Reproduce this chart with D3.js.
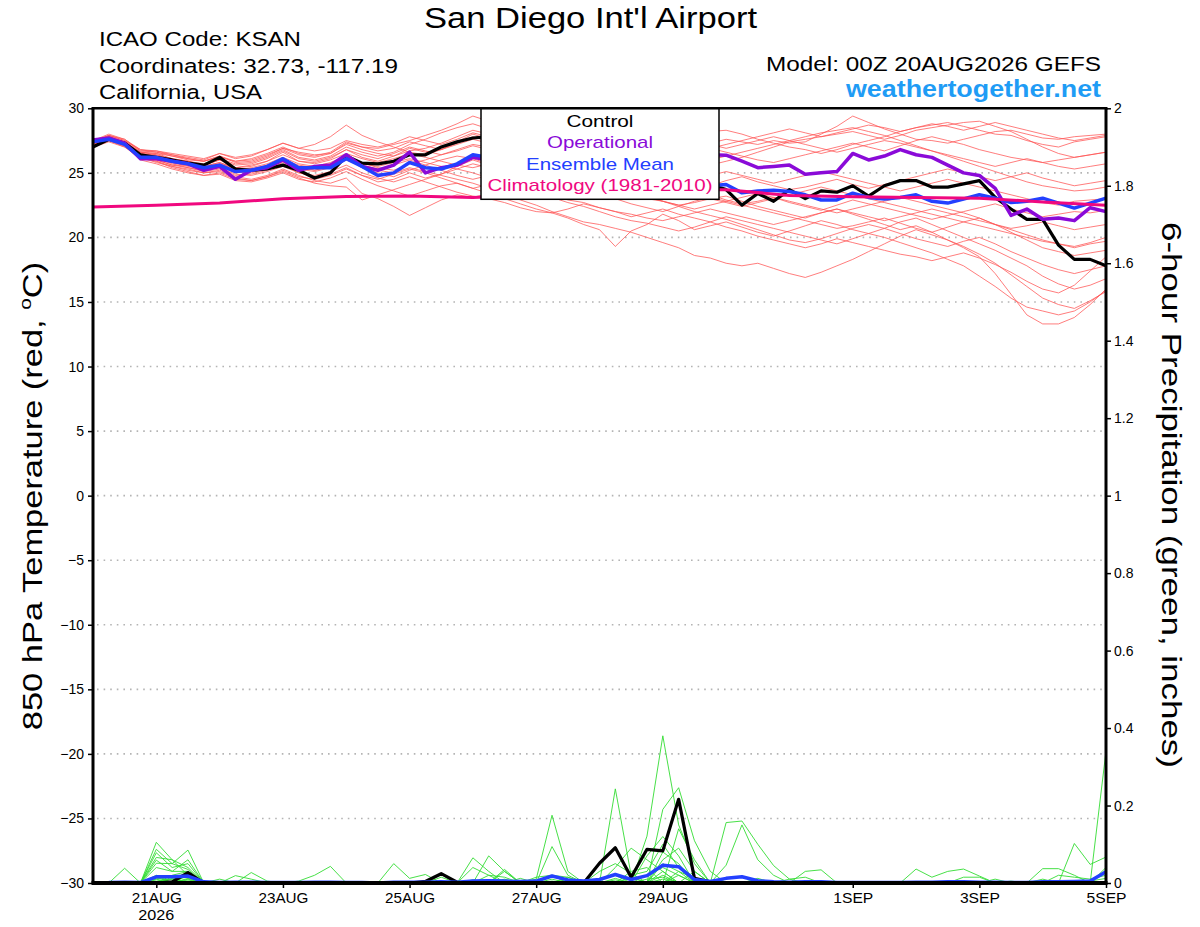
<!DOCTYPE html>
<html>
<head>
<meta charset="utf-8">
<script src="https://cdn.jsdelivr.net/npm/d3@7"></script>
<style>
  body { margin: 0; background: #fff; }
  svg { display: block; }
</style>
</head>
<body>
<div class="container"></div>
<script>
/* globals d3 */
// GEFS plume for KSAN, 850 hPa temperature (left axis) and 6-hour precipitation (right axis)
// every series is 6-hourly from the 00Z 20AUG2026 run

const runStart = new Date(Date.UTC(2026, 7, 20, 0));
const runEnd = new Date(Date.UTC(2026, 8, 5, 0));

// bottom axis
const tickDates = ['2026-08-21', '2026-08-23', '2026-08-25', '2026-08-27', '2026-08-29', '2026-09-01', '2026-09-03', '2026-09-05'];
const tickLabels = ['21AUG', '23AUG', '25AUG', '27AUG', '29AUG', '1SEP', '3SEP', '5SEP'];
const tempTicks = [-30, -25, -20, -15, -10, -5, 0, 5, 10, 15, 20, 25, 30];
const precipTicks = [0, 0.2, 0.4, 0.6, 0.8, 1, 1.2, 1.4, 1.6, 1.8, 2];

// 850 hPa temperature, steps 0..64
const tempControl = [27.0, 27.6, 27.3, 26.4, 26.2, 26.0, 25.75, 25.6, 26.2, 25.3, 25.2, 25.3, 25.6, 25.2, 24.6, 25.0, 26.3, 25.75, 25.7, 25.9, 26.4, 26.4, 27.0, 27.4, 27.7,
  27.8, 27.5, 27.0, 26.6, 26.2, 25.8, 25.5, 25.2, 25.0, 24.8, 24.6, 24.4, 24.3, 24.2, 24.1,
  23.7, 22.5, 23.4, 22.8, 23.7, 23.0, 23.6, 23.5, 24.0, 23.2, 24.0, 24.4, 24.4, 23.9, 23.9, 24.15, 24.4, 23.1, 22.2, 21.4, 21.4, 19.4, 18.3, 18.3, 17.8];
const tempOperational = [27.55, 27.7, 27.3, 26.1, 26.1, 25.9, 25.7, 25.2, 25.5, 24.5, 25.2, 25.4, 26.0, 25.2, 25.5, 25.6, 26.4, 25.5, 25.2, 25.6, 26.6, 25.0, 25.4, 25.6, 26.2,
  26.0, 26.2, 26.4, 26.6, 26.8, 26.9, 27.0, 26.9, 26.8, 26.7, 26.6, 26.6, 26.5, 26.4, 26.4,
  26.37, 25.9, 25.4, 25.5, 25.6, 24.9, 25.0, 25.1, 26.5, 26.0, 26.3, 26.8, 26.4, 26.2, 25.6, 25.0, 24.8, 23.8, 21.7, 22.2, 21.4, 21.5, 21.3, 22.3, 22.0];
const tempMean = [27.4, 27.6, 27.2, 26.2, 26.2, 25.9, 25.7, 25.4, 25.6, 25.1, 25.2, 25.5, 26.1, 25.4, 25.4, 25.4, 26.1, 25.5, 24.8, 25.0, 25.8, 25.4, 25.3, 25.7, 26.4,
  26.2, 26.0, 25.8, 25.5, 25.3, 25.0, 24.8, 24.6, 24.5, 24.4, 24.3, 24.2, 24.1, 24.1, 24.0,
  24.1, 23.45, 23.6, 23.65, 23.56, 23.3, 22.9, 22.9, 23.43, 23.1, 22.97, 23.1, 23.3, 22.8, 22.66, 22.97, 23.3, 23.04, 22.7, 22.8, 23.04, 22.66, 22.27, 22.66, 23.04];
// 1981-2010 climatology, one value per day at 00Z
const climatology = [22.35, 22.5, 22.66, 23.0, 23.17, 23.2, 23.1, 23.3, 23.5, 23.7, 23.7, 23.25, 23.15, 23.1, 23.04, 22.75, 22.5];

// the 20 perturbed members
const tempMembers = [
  [27.2, 27.7, 27.3, 26.5, 26.4, 26.0, 25.9, 25.6, 26.0, 25.4, 25.6, 25.9, 26.6, 25.9, 25.8, 26.1, 26.8, 26.2, 25.9, 26.3, 26.9, 26.6, 26.8, 27.4, 28.0, 27.6, 27.1, 26.8, 26.4, 26.0, 25.9, 26.2, 26.5, 26.7, 26.9, 27.1, 27.4, 27.2, 27.0, 27.3, 27.6, 27.4, 27.2, 27.5, 27.3, 27.4, 28.0, 28.6, 29.4, 28.9, 28.4, 28.0, 27.6, 27.5, 27.3, 27.6, 27.9, 28.2, 28.3, 28.0, 27.7, 27.6, 27.8, 27.9, 28.0],
  [27.4, 27.8, 27.4, 26.6, 26.5, 26.3, 26.0, 25.9, 26.3, 25.9, 26.0, 26.4, 26.9, 26.6, 26.4, 26.5, 27.3, 27.0, 26.9, 27.2, 27.5, 27.9, 28.3, 28.8, 29.4, 29.0, 28.5, 28.0, 27.6, 27.4, 27.2, 27.5, 27.8, 28.0, 27.8, 27.6, 27.5, 27.6, 27.9, 28.2, 28.3, 28.0, 27.6, 27.3, 27.0, 26.8, 26.5, 26.8, 27.2, 27.5, 27.8, 28.2, 28.5, 28.7, 28.9, 28.6, 28.3, 28.0, 27.9, 27.5, 27.2, 27.0, 27.4, 27.6, 27.8],
  [27.3, 27.9, 27.5, 26.7, 26.7, 26.4, 26.2, 26.0, 26.5, 26.1, 26.3, 26.8, 27.3, 26.9, 27.2, 27.8, 28.7, 27.9, 27.4, 27.0, 26.6, 26.4, 26.8, 27.2, 27.6, 27.3, 27.0, 26.6, 26.3, 26.0, 25.6, 25.3, 25.5, 25.7, 25.4, 25.0, 24.8, 25.0, 25.3, 25.6, 25.9, 26.2, 26.6, 27.0, 27.4, 27.6, 27.8, 28.0, 28.2, 27.9, 27.6, 27.9, 28.3, 28.5, 28.7, 28.9, 29.0, 28.6, 28.2, 27.6, 27.0, 26.5, 26.2, 26.4, 26.6],
  [27.1, 27.6, 27.2, 26.3, 26.0, 25.6, 25.4, 25.1, 25.3, 24.8, 24.9, 25.2, 25.6, 25.0, 24.7, 24.9, 25.4, 24.8, 24.3, 24.5, 25.0, 24.6, 24.9, 25.5, 26.0, 25.6, 25.0, 24.5, 24.2, 23.9, 23.5, 23.2, 23.5, 23.8, 23.4, 23.0, 22.8, 22.5, 22.7, 23.0, 23.2, 22.8, 22.4, 22.1, 21.8, 21.5, 21.9, 22.2, 21.8, 21.4, 21.0, 20.6, 20.9, 20.4, 19.8, 19.2, 18.5, 17.2, 15.6, 14.0, 13.3, 13.3, 13.8, 14.8, 16.0],
  [27.0, 27.5, 27.0, 26.1, 25.9, 25.4, 25.1, 24.8, 24.9, 24.4, 24.3, 24.6, 25.0, 24.5, 24.3, 24.6, 25.1, 24.5, 24.0, 23.6, 23.2, 23.6, 24.0, 24.2, 23.8, 23.4, 23.0, 22.6, 22.2, 21.9, 21.5, 21.0, 20.6, 19.3, 20.5, 21.0, 21.8, 21.3, 20.6, 20.9, 21.2, 20.8, 20.4, 20.1, 20.5, 20.9, 21.3, 21.0, 20.6, 20.3, 20.7, 21.2, 21.5, 21.0, 20.5, 20.0, 19.5, 19.0, 18.4, 17.8, 17.0, 16.4, 16.0, 16.3, 16.8],
  [27.2, 27.6, 27.1, 26.2, 25.8, 25.5, 25.3, 25.0, 25.2, 24.7, 24.5, 24.8, 25.3, 24.8, 24.4, 24.2, 24.6, 23.4, 23.0, 22.4, 21.7, 22.3, 22.9, 23.3, 23.1, 23.4, 23.8, 24.2, 24.6, 24.4, 24.0, 23.7, 23.4, 23.0, 22.6, 22.3, 22.0, 22.4, 22.8, 23.1, 22.8, 22.5, 22.2, 21.9, 21.6, 21.3, 21.0, 20.7, 20.9, 21.2, 21.5, 21.1, 20.7, 20.4, 20.8, 21.2, 21.5, 21.0, 20.4, 19.8, 19.2, 18.9, 18.6, 18.8, 19.0],
  [27.3, 27.7, 27.2, 26.4, 26.1, 25.8, 25.5, 25.3, 25.6, 25.1, 25.0, 25.3, 25.8, 25.3, 25.1, 25.4, 26.0, 25.5, 25.2, 25.0, 25.4, 25.1, 24.8, 24.5, 24.2, 23.8, 23.3, 22.9, 22.5, 22.0, 21.6, 21.2, 21.0, 20.7, 20.4, 20.0, 19.6, 19.2, 18.6, 18.4, 18.0, 17.8, 18.0, 17.6, 17.2, 16.9, 17.3, 17.8, 18.3, 18.9, 19.5, 20.1, 20.6, 20.2, 19.8, 19.3, 18.7, 18.0, 17.1, 16.2, 15.3, 14.8, 14.5, 15.1, 15.8],
  [27.0, 27.4, 27.0, 26.3, 26.0, 25.6, 25.6, 25.4, 25.7, 25.3, 25.3, 25.6, 26.0, 25.6, 25.4, 25.7, 26.2, 25.7, 25.5, 25.8, 26.1, 25.8, 25.5, 25.3, 25.0, 24.6, 24.2, 23.8, 23.5, 23.1, 22.7, 22.4, 22.0, 21.6, 21.3, 21.1, 20.8, 20.5, 20.8, 21.2, 21.6, 21.3, 21.0, 20.7, 20.4, 20.1, 19.8, 19.5, 19.9, 20.3, 20.0, 19.6, 19.2, 18.8, 18.3, 17.8, 17.0, 16.2, 15.3, 14.6, 14.3, 14.0, 14.3, 15.0, 15.9],
  [27.4, 27.8, 27.3, 26.5, 26.3, 26.0, 25.8, 25.5, 25.8, 25.3, 25.1, 25.4, 25.9, 25.5, 25.2, 25.5, 26.1, 25.4, 25.0, 24.7, 25.2, 25.6, 26.0, 26.3, 26.1, 25.7, 25.3, 25.0, 24.6, 24.2, 23.9, 23.5, 23.2, 23.4, 23.6, 23.2, 22.8, 22.4, 22.0, 21.7, 21.4, 21.0, 20.6, 20.2, 19.8, 19.6, 19.9, 20.3, 20.7, 21.0, 20.7, 20.3, 19.9, 19.6, 19.3, 19.7, 20.0, 19.5, 18.9, 18.4, 17.9, 17.5, 17.2, 17.5, 17.8],
  [27.2, 27.7, 27.4, 26.6, 26.5, 26.1, 25.9, 25.6, 26.0, 25.6, 25.7, 26.1, 26.7, 26.1, 25.9, 26.2, 26.8, 26.4, 26.1, 26.5, 27.0, 26.7, 26.4, 26.7, 27.1, 26.8, 26.3, 25.9, 25.5, 25.2, 24.9, 24.6, 24.3, 24.0, 23.7, 23.4, 23.1, 23.4, 23.7, 23.3, 22.9, 22.6, 22.8, 23.1, 22.7, 22.4, 22.1, 22.5, 22.9, 22.6, 22.3, 22.0, 21.7, 21.4, 21.7, 22.0, 22.3, 22.6, 22.2, 21.9, 21.6, 21.8, 22.0, 21.9, 22.1],
  [27.5, 27.9, 27.5, 26.8, 26.6, 26.3, 26.1, 25.9, 26.3, 25.8, 25.9, 26.3, 26.9, 26.4, 26.2, 26.5, 27.2, 26.8, 26.5, 26.3, 26.7, 26.9, 27.3, 27.8, 28.3, 28.0, 27.6, 27.2, 26.9, 26.6, 26.4, 26.7, 27.0, 26.8, 26.5, 26.2, 26.0, 26.3, 26.6, 26.9, 26.6, 26.3, 26.0, 25.8, 26.1, 26.4, 26.7, 27.0, 27.3, 27.0, 26.7, 27.1, 27.5, 27.8, 27.5, 27.2, 26.8, 26.5, 26.2, 26.0, 25.8, 26.0, 26.2, 26.4, 26.6],
  [27.3, 27.8, 27.3, 26.3, 26.2, 25.9, 25.7, 25.4, 25.7, 25.2, 25.4, 25.7, 26.2, 25.7, 25.5, 25.8, 26.3, 25.8, 25.4, 25.2, 25.7, 26.0, 26.4, 26.8, 27.2, 27.0, 26.6, 26.2, 25.9, 25.6, 25.3, 25.0, 24.8, 24.5, 24.2, 24.5, 24.8, 24.6, 24.3, 24.0, 24.4, 24.7, 24.3, 24.0, 23.7, 23.9, 24.2, 24.5, 24.1, 23.8, 24.1, 24.4, 24.7, 25.0, 25.3, 25.0, 24.7, 24.4, 24.7, 25.0, 24.6, 24.3, 24.0, 24.2, 24.4],
  [27.1, 27.5, 27.1, 26.2, 25.9, 25.5, 25.2, 25.0, 25.1, 24.6, 24.4, 24.7, 25.1, 24.6, 24.2, 24.0, 23.9, 22.9, 23.3, 23.7, 24.1, 24.5, 24.9, 25.3, 25.7, 25.4, 25.0, 24.7, 24.4, 24.1, 23.8, 23.6, 23.9, 24.2, 24.5, 24.2, 23.9, 23.6, 23.3, 23.0, 22.7, 22.4, 22.7, 23.0, 23.3, 23.6, 23.9, 23.6, 23.3, 23.0, 22.7, 22.4, 22.1, 21.8, 21.5, 21.2, 20.9, 20.6, 20.3, 20.0, 19.7, 19.5, 19.2, 19.5, 19.7],
  [27.4, 27.9, 27.6, 26.7, 26.6, 26.4, 26.1, 25.9, 26.2, 25.9, 26.1, 26.5, 27.0, 26.5, 26.3, 26.6, 27.4, 27.0, 26.7, 26.9, 27.4, 27.1, 26.8, 27.3, 27.8, 27.4, 27.0, 26.7, 26.4, 26.7, 27.0, 27.3, 27.5, 27.2, 26.9, 27.2, 27.5, 27.8, 27.5, 27.2, 26.9, 27.2, 27.5, 27.8, 27.5, 27.2, 26.9, 26.6, 26.9, 27.2, 27.5, 27.3, 27.0, 26.7, 26.4, 26.1, 25.8, 25.5, 25.8, 26.1, 25.8, 25.5, 25.3, 25.5, 25.7],
  [27.0, 27.5, 27.1, 26.0, 25.7, 25.3, 25.0, 24.8, 25.0, 24.5, 24.4, 24.7, 25.2, 24.7, 24.5, 24.8, 25.3, 24.8, 24.5, 24.9, 25.3, 25.0, 24.6, 24.2, 23.8, 24.1, 24.4, 24.1, 23.7, 23.3, 22.9, 22.7, 22.3, 22.0, 21.6, 21.9, 22.2, 21.8, 21.5, 21.2, 20.8, 20.5, 20.1, 19.8, 19.5, 19.2, 19.5, 19.9, 19.6, 19.3, 19.0, 18.7, 18.5, 18.2, 18.5, 18.8, 18.4, 17.9, 17.3, 16.6, 16.0, 15.7, 16.3, 17.4, 18.5],
  [27.3, 27.8, 27.4, 26.6, 26.4, 26.1, 25.9, 25.7, 26.1, 25.7, 25.8, 26.2, 26.8, 26.2, 26.0, 26.3, 27.0, 26.6, 26.3, 26.6, 27.2, 27.6, 28.1, 28.5, 28.8, 28.4, 28.0, 27.7, 27.3, 27.0, 26.8, 27.1, 27.4, 27.7, 27.9, 28.1, 27.8, 27.5, 27.2, 26.9, 27.2, 27.5, 27.8, 28.1, 28.4, 28.1, 27.8, 28.1, 28.4, 28.7, 28.5, 28.2, 28.5, 28.8, 28.6, 28.3, 28.6, 28.9, 28.6, 28.3, 28.0, 27.7, 27.5, 27.7, 27.9],
  [27.2, 27.6, 27.2, 26.3, 26.1, 25.7, 25.4, 25.2, 25.4, 24.9, 24.8, 25.1, 25.5, 25.0, 24.8, 25.1, 25.6, 25.0, 24.6, 24.3, 24.7, 24.3, 23.9, 23.5, 23.2, 23.0, 22.7, 22.3, 22.0, 21.9, 22.2, 22.6, 22.3, 22.0, 21.8, 21.5, 21.3, 21.6, 21.9, 22.2, 21.9, 21.6, 21.3, 21.0, 21.3, 21.6, 21.9, 22.2, 21.9, 21.6, 21.3, 21.6, 21.9, 22.2, 21.9, 21.6, 21.3, 21.0, 20.7, 20.9, 21.2, 20.9, 20.6, 20.8, 21.0],
  [27.5, 28.0, 27.6, 26.8, 26.7, 26.5, 26.3, 26.1, 26.5, 26.2, 26.4, 26.8, 27.3, 26.9, 26.7, 26.9, 27.5, 27.2, 27.0, 27.3, 27.8, 27.5, 27.2, 27.6, 28.1, 27.8, 27.4, 27.1, 26.8, 26.5, 26.2, 25.9, 25.6, 25.9, 26.2, 26.5, 26.8, 26.5, 26.2, 26.0, 26.3, 26.6, 26.9, 27.2, 27.5, 27.8, 28.1, 28.3, 28.5, 28.2, 27.9, 27.5, 27.1, 26.7, 26.3, 25.9, 25.5, 25.1, 24.7, 24.3, 24.0, 23.8, 23.6, 23.7, 23.9],
  [27.1, 27.6, 27.2, 26.4, 26.2, 25.8, 25.6, 25.3, 25.5, 25.0, 25.1, 25.4, 25.9, 25.4, 25.2, 25.5, 26.0, 25.6, 25.3, 25.6, 26.0, 25.6, 25.2, 24.8, 24.5, 24.8, 25.1, 24.8, 24.5, 24.2, 23.9, 24.2, 24.5, 24.8, 24.5, 24.2, 23.9, 24.2, 24.5, 24.8, 25.1, 24.8, 24.5, 24.2, 24.5, 24.8, 25.1, 24.8, 24.5, 24.2, 23.9, 23.6, 23.9, 24.2, 24.5, 24.2, 23.9, 23.6, 23.3, 23.0, 22.7, 22.5, 22.8, 22.9, 23.0],
  [27.3, 27.7, 27.3, 26.5, 26.3, 26.0, 25.7, 25.5, 25.8, 25.4, 25.5, 25.9, 26.4, 25.9, 25.7, 26.0, 26.5, 26.1, 25.8, 26.1, 26.5, 26.2, 25.9, 25.6, 25.4, 25.7, 26.0, 25.7, 25.3, 25.0, 24.6, 24.3, 24.0, 23.7, 23.4, 23.1, 22.8, 22.5, 22.2, 22.5, 22.8, 23.1, 23.4, 23.1, 22.8, 22.5, 22.2, 21.9, 22.2, 22.5, 22.8, 23.1, 22.8, 22.5, 22.2, 21.9, 21.5, 21.0, 20.6, 20.2, 19.8, 19.5, 19.3, 19.6, 20.0]
];

// 6-hour precipitation (inches), steps 1..64
const precipControl = [0, 0, 0, 0, 0.003, 0.027, 0, 0, 0, 0, 0, 0, 0, 0, 0, 0, 0, 0, 0, 0, 0.004, 0.024, 0.002, 0, 0, 0, 0, 0, 0, 0, 0, 0.051,
  0.091, 0.015, 0.087, 0.083, 0.216, 0.012, 0.003, 0, 0, 0, 0, 0, 0, 0, 0, 0, 0, 0, 0, 0, 0, 0, 0, 0, 0, 0, 0, 0, 0, 0, 0, 0];
const precipMean = [0.001, 0.002, 0.001, 0.016, 0.016, 0.018, 0.003, 0.001, 0.002, 0.002, 0.001, 0.001, 0.001, 0.002, 0.002, 0.001,
  0.001, 0, 0.002, 0.002, 0.002, 0.003, 0.002, 0.005, 0.006, 0.005, 0.004, 0.005, 0.018, 0.008, 0.005, 0.009,
  0.022, 0.009, 0.019, 0.046, 0.042, 0.009, 0.004, 0.012, 0.016, 0.006, 0.003, 0.002, 0.003, 0.003, 0.001, 0.001,
  0.001, 0.001, 0.001, 0.002, 0.002, 0.003, 0.003, 0.002, 0.002, 0.001, 0.001, 0.003, 0.003, 0.004, 0.005, 0.029];
// members only list the steps where rain fell: [step, inches]
const precipMembers = [
  [[2, 0.038], [4, 0.105], [5, 0.06], [6, 0.02], [28, 0.01], [29, 0.175], [30, 0.03], [36, 0.05], [37, 0.03]],
  [[4, 0.087], [5, 0.05], [6, 0.085], [33, 0.243], [34, 0.02], [35, 0.03], [36, 0.1], [37, 0.04]],
  [[4, 0.078], [5, 0.04], [6, 0.05], [24, 0.065], [25, 0.03], [29, 0.094], [30, 0.02], [40, 0.156], [41, 0.16], [42, 0.1], [43, 0.045], [44, 0.01]],
  [[4, 0.066], [5, 0.06], [6, 0.04], [19, 0.05], [20, 0.012], [21, 0.022], [35, 0.121], [36, 0.38], [37, 0.15], [38, 0.05]],
  [[4, 0.059], [5, 0.03], [6, 0.03], [9, 0.019], [10, 0.01], [36, 0.19], [37, 0.246], [38, 0.109], [39, 0.03], [64, 0.34]],
  [[4, 0.051], [5, 0.05], [6, 0.035], [13, 0.005], [14, 0.02], [15, 0.043], [25, 0.07], [26, 0.03], [37, 0.14], [38, 0.06], [62, 0.102], [63, 0.048], [64, 0.067]],
  [[4, 0.04], [5, 0.03], [6, 0.06], [26, 0.03], [40, 0.046], [41, 0.15], [42, 0.06], [43, 0.02]],
  [[5, 0.02], [6, 0.03], [8, 0.01], [26, 0.035], [33, 0.04], [34, 0.09], [35, 0.06], [36, 0.03], [45, 0.03], [46, 0.034]],
  [[4, 0.02], [6, 0.02], [10, 0.027], [11, 0.005], [22, 0.015], [29, 0.02], [30, 0.015], [35, 0.07], [36, 0.12], [37, 0.07], [52, 0.036], [53, 0.015], [54, 0.03], [55, 0.036], [56, 0.018]],
  [[5, 0.01], [6, 0.015], [24, 0.04], [25, 0.02], [32, 0.03], [33, 0.05], [34, 0.025], [38, 0.03], [60, 0.037], [61, 0.037], [62, 0.02], [64, 0.04]],
  [[4, 0.015], [27, 0.012], [33, 0.012], [36, 0.06], [37, 0.09], [38, 0.03], [55, 0.015], [56, 0.015]],
  [[5, 0.012], [25, 0.02], [26, 0.015], [34, 0.03], [35, 0.04], [44, 0.01], [45, 0.015], [61, 0.02], [62, 0.015], [63, 0.01], [64, 0.02]],
  [[6, 0.012], [28, 0.015], [29, 0.02], [36, 0.08], [37, 0.05], [58, 0.005]],
  [[4, 0.01], [23, 0.005], [30, 0.015], [35, 0.02], [36, 0.04], [37, 0.02], [48, 0.004]],
  [[6, 0.008], [26, 0.01], [32, 0.012], [33, 0.02], [36, 0.03], [42, 0.012], [63, 0.005], [64, 0.012]],
  [[4, 0.012], [5, 0.008], [30, 0.01], [34, 0.015], [37, 0.03], [38, 0.012], [57, 0.01]],
  [[6, 0.01], [24, 0.008], [31, 0.006], [36, 0.02], [46, 0.005]],
  [[5, 0.015], [29, 0.01], [33, 0.008], [37, 0.02], [53, 0.004], [60, 0.01]],
  [[4, 0.008], [25, 0.005], [35, 0.01], [36, 0.015], [47, 0.003]],
  [[6, 0.005], [29, 0.005], [36, 0.01], [38, 0.005]]
];

const globals = {
  font: "'Liberation Sans', Arial, Helvetica, sans-serif",
  member: '#ff5454',
  precip: '#33dd33',
  control: '#000',
  operational: '#8a0ad8',
  mean: '#2340ff',
  climatology: '#f0087f',
  site: '#1f9cf5'
};

const frame = { left: 93, right: 1106, top: 108.3, bottom: 883 };
const hour = 3600 * 1000;
const stepTime = i => new Date(runStart.getTime() + i * 6 * hour);

const svg = d3.select('.container')
  .append('svg')
  .attr('width', 1200)
  .attr('height', 927)
  .attr('font-family', globals.font);

// scales, both vertical axes share the frame
const x = d3.scaleUtc().domain([runStart, runEnd]).range([frame.left, frame.right]);
const yTemp = d3.scaleLinear().domain([-30, 30]).range([frame.bottom, frame.top]);
const yPrecip = d3.scaleLinear().domain([0, 2]).range([frame.bottom, frame.top]);

// the original lettering is wide, so text is stretched to its measured length
const stretch = (sel, len) => sel.attr('textLength', len).attr('lengthAdjust', 'spacingAndGlyphs');

// dotted grid on the temperature ticks
svg.append('g')
  .selectAll('line')
  .data(tempTicks.filter(d => d > -30 && d < 30))
  .enter()
  .append('line')
  .attr('x1', frame.left + 4)
  .attr('x2', frame.right)
  .attr('y1', d => yTemp(d))
  .attr('y2', d => yTemp(d))
  .attr('stroke', '#b4b4b4')
  .attr('stroke-width', 1.6)
  .attr('stroke-dasharray', '1.6,5');

const tempLine = d3.line()
  .x((d, i) => x(stepTime(i)))
  .y(d => yTemp(d));

// precipitation steps start at 06Z
const precipLine = d3.line()
  .x((d, i) => x(stepTime(i + 1)))
  .y(d => yPrecip(d));

const expand = pairs => {
  const byStep = new Map(pairs);
  return d3.range(1, 65).map(j => byStep.get(j) || 0);
};

const plot = svg.append('g');

plot.selectAll('path.member')
  .data(tempMembers)
  .enter()
  .append('path')
  .attr('class', 'member')
  .attr('d', tempLine)
  .attr('fill', 'none')
  .attr('stroke', globals.member)
  .attr('stroke-opacity', 0.85)
  .attr('stroke-width', 0.9);

plot.selectAll('path.rain')
  .data(precipMembers.map(expand))
  .enter()
  .append('path')
  .attr('class', 'rain')
  .attr('d', precipLine)
  .attr('fill', 'none')
  .attr('stroke', globals.precip)
  .attr('stroke-width', 0.9);

const thick = (d, line, colour, w) => plot.append('path')
  .datum(d)
  .attr('d', line)
  .attr('fill', 'none')
  .attr('stroke', colour)
  .attr('stroke-width', w)
  .attr('stroke-linejoin', 'round');

thick(precipControl, precipLine, globals.control, 3.2);
thick(precipMean, precipLine, globals.mean, 3.5);
thick(tempControl, tempLine, globals.control, 3.2);
thick(tempOperational, tempLine, globals.operational, 3.5);
thick(tempMean, tempLine, globals.mean, 3.5);

plot.append('path')
  .datum(climatology)
  .attr('d', d3.line()
    .x((d, i) => x(new Date(runStart.getTime() + i * 24 * hour)))
    .y(d => yTemp(d)))
  .attr('fill', 'none')
  .attr('stroke', globals.climatology)
  .attr('stroke-width', 3);

// legend box sits on the top edge of the frame
const legend = svg.append('g');
legend.append('rect')
  .attr('x', 481)
  .attr('y', frame.top)
  .attr('width', 238)
  .attr('height', 91)
  .attr('fill', '#fff')
  .attr('stroke', '#000')
  .attr('stroke-width', 1.5);
legend.selectAll('text')
  .data([
    ['Control', globals.control, 67],
    ['Operational', globals.operational, 106],
    ['Ensemble Mean', globals.mean, 148],
    ['Climatology (1981-2010)', globals.climatology, 225]
  ])
  .enter()
  .append('text')
  .attr('x', 600)
  .attr('y', (d, i) => 127 + i * 21.3)
  .attr('text-anchor', 'middle')
  .attr('font-size', 17)
  .attr('fill', d => d[1])
  .attr('textLength', d => d[2])
  .attr('lengthAdjust', 'spacingAndGlyphs')
  .text(d => d[0]);

// axes
const styleAxis = g => {
  g.select('.domain').remove();
  g.attr('font-family', globals.font).attr('font-size', 14);
  g.selectAll('.tick line').attr('stroke', '#000').attr('stroke-width', 1.5);
  g.selectAll('.tick text').attr('fill', '#000');
};

svg.append('g')
  .attr('transform', `translate(${frame.left},0)`)
  .call(d3.axisLeft(yTemp).tickValues(tempTicks).tickSize(5).tickPadding(4))
  .call(styleAxis);

svg.append('g')
  .attr('transform', `translate(${frame.right},0)`)
  .call(d3.axisRight(yPrecip).tickValues(precipTicks).tickFormat(d3.format('~g')).tickSize(5).tickPadding(3))
  .call(styleAxis);

const bottomAxis = svg.append('g')
  .attr('transform', `translate(0,${frame.bottom})`)
  .call(d3.axisBottom(x)
    .tickValues(tickDates.map(d => new Date(d + 'T00:00:00Z')))
    .tickFormat((d, i) => tickLabels[i])
    .tickSize(5)
    .tickPadding(5))
  .call(styleAxis);
bottomAxis.selectAll('.tick text')
  .attr('font-size', 14.5)
  .attr('textLength', (d, i) => tickLabels[i].length * 10)
  .attr('lengthAdjust', 'spacingAndGlyphs');

svg.append('text')
  .attr('x', x(new Date(tickDates[0] + 'T00:00:00Z')))
  .attr('y', 920)
  .attr('text-anchor', 'middle')
  .attr('font-size', 14.5)
  .call(stretch, 36)
  .text('2026');

// frame
const edges = [
  [frame.left, frame.top, frame.left, frame.bottom, 3],
  [frame.right, frame.top, frame.right, frame.bottom, 3],
  [frame.left - 1.5, frame.top, frame.right + 1.5, frame.top, 2.5],
  [frame.left - 1.5, frame.bottom, frame.right + 1.5, frame.bottom, 4]
];
svg.append('g')
  .selectAll('line')
  .data(edges)
  .enter()
  .append('line')
  .attr('x1', d => d[0])
  .attr('y1', d => d[1])
  .attr('x2', d => d[2])
  .attr('y2', d => d[3])
  .attr('stroke', '#000')
  .attr('stroke-width', d => d[4]);

// header texts
svg.append('text')
  .attr('x', 590.5)
  .attr('y', 28)
  .attr('text-anchor', 'middle')
  .attr('font-size', 29)
  .call(stretch, 333)
  .text("San Diego Int'l Airport");

svg.append('g')
  .selectAll('text')
  .data([['ICAO Code: KSAN', 202], ['Coordinates: 32.73, -117.19', 299], ['California, USA', 163]])
  .enter()
  .append('text')
  .attr('x', 99)
  .attr('y', (d, i) => 46 + i * 26.7)
  .attr('font-size', 20.5)
  .attr('textLength', d => d[1])
  .attr('lengthAdjust', 'spacingAndGlyphs')
  .text(d => d[0]);

svg.append('text')
  .attr('x', 1101)
  .attr('y', 71)
  .attr('text-anchor', 'end')
  .attr('font-size', 20.5)
  .call(stretch, 335)
  .text('Model: 00Z 20AUG2026 GEFS');

svg.append('text')
  .attr('x', 1101)
  .attr('y', 97)
  .attr('text-anchor', 'end')
  .attr('font-size', 23)
  .attr('font-weight', 'bold')
  .attr('fill', globals.site)
  .call(stretch, 255)
  .text('weathertogether.net');

// axis titles
const leftTitle = svg.append('text')
  .attr('transform', 'translate(42,496) rotate(-90) scale(1.23,1)')
  .attr('text-anchor', 'middle')
  .attr('font-size', 28);
leftTitle.append('tspan').text('850 hPa Temperature (red, ');
leftTitle.append('tspan').attr('font-size', 17).attr('dy', -11).text('o');
leftTitle.append('tspan').attr('dy', 11).text('C)');

svg.append('text')
  .attr('transform', 'translate(1162,495) rotate(90)')
  .attr('text-anchor', 'middle')
  .attr('font-size', 28)
  .call(stretch, 546)
  .text('6-hour Precipitation (green, inches)');
</script>
</body>
</html>
